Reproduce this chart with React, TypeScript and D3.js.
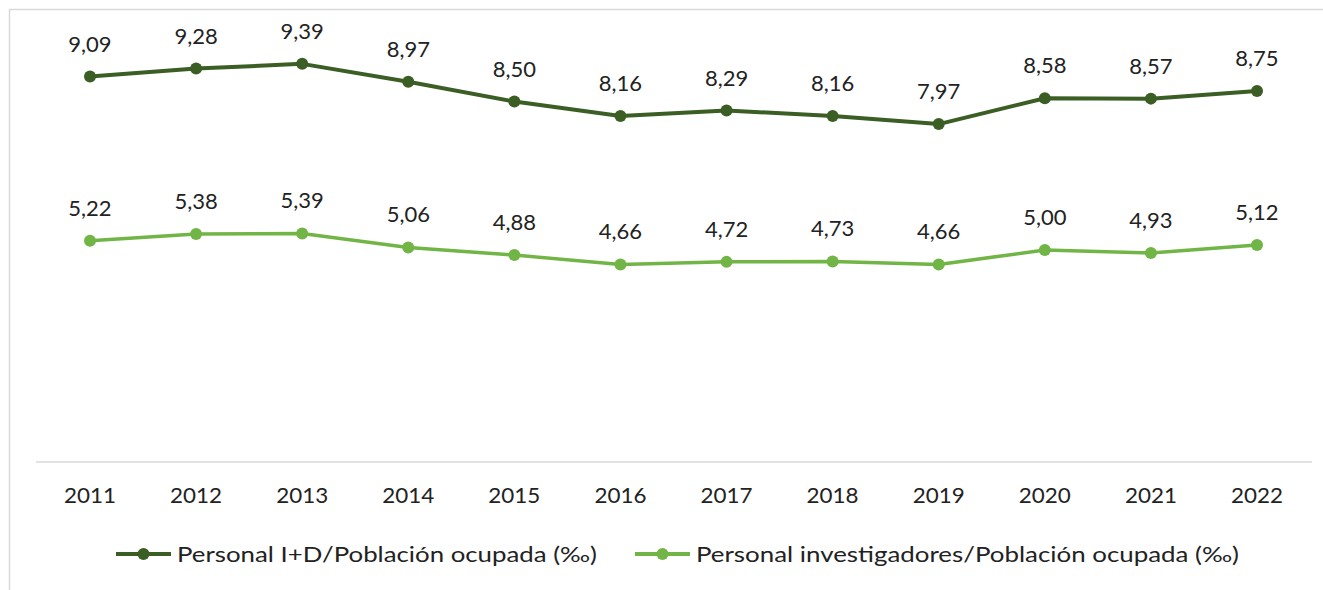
import React from "react";
import * as d3 from "d3";

const years = ["2011","2012","2013","2014","2015","2016","2017","2018","2019","2020","2021","2022"];
const personalID = [9.09,9.28,9.39,8.97,8.50,8.16,8.29,8.16,7.97,8.58,8.57,8.75];
const investigadores = [5.22,5.38,5.39,5.06,4.88,4.66,4.72,4.73,4.66,5.00,4.93,5.12];
const seriesNames = ["Personal I+D/Población ocupada (‰)", "Personal investigadores/Población ocupada (‰)"];
const colors = ["#3b5e25", "#72b547"];

const W = 1323, H = 590;
const FONT = "Lato, 'Open Sans', sans-serif";

export default function App() {
  const x = d3.scalePoint<string>().domain(years).range([90, 1257]);
  const y = d3.scaleLinear().domain([0, 10]).range([462, 38]);
  const line = d3.line<number>().x((_, i) => x(years[i])!).y(d => y(d));
  const fmt = (v: number) => v.toFixed(2).replace(".", ",");
  const series = [personalID, investigadores];
  const legendX = [116, 635];
  const legendLen = [420, 543];
  return (
    <svg width={W} height={H} style={{ position: "absolute", left: 0, top: 0 }} fontFamily={FONT}>
      <rect x={0} y={0} width={W} height={H} fill="#fff" />
      <path d={`M9.5,${H} V9.5 H${W}`} fill="none" stroke="#d9d9d9" strokeWidth={1.5} />
      <line x1={36} x2={1312} y1={462} y2={462} stroke="#d9d9d9" strokeWidth={1.5} />
      {years.map(yr => (
        <text key={yr} x={x(yr)} y={503} textAnchor="middle" fontSize={22} fill="#222" textLength={52} lengthAdjust="spacingAndGlyphs">{yr}</text>
      ))}
      {series.map((s, si) => (
        <g key={si}>
          <path d={line(s)!} fill="none" stroke={colors[si]} strokeWidth={si === 0 ? 4 : 3.5} strokeLinejoin="round" />
          {s.map((v, i) => (
            <circle key={i} cx={x(years[i])} cy={y(v)} r={6} fill={colors[si]} />
          ))}
          {s.map((v, i) => (
            <text key={"t" + i} x={x(years[i])} y={y(v) - 25} textAnchor="middle" fontSize={22} fill="#222">{fmt(v)}</text>
          ))}
        </g>
      ))}
      {seriesNames.map((n, i) => (
        <g key={n}>
          <line x1={legendX[i]} x2={legendX[i] + 55} y1={554} y2={554} stroke={colors[i]} strokeWidth={4} />
          <circle cx={legendX[i] + 27.5} cy={554} r={6} fill={colors[i]} />
          <text x={legendX[i] + 61} y={562} fontSize={22} fill="#222" textLength={legendLen[i]} lengthAdjust="spacingAndGlyphs">{n}</text>
        </g>
      ))}
    </svg>
  );
}
